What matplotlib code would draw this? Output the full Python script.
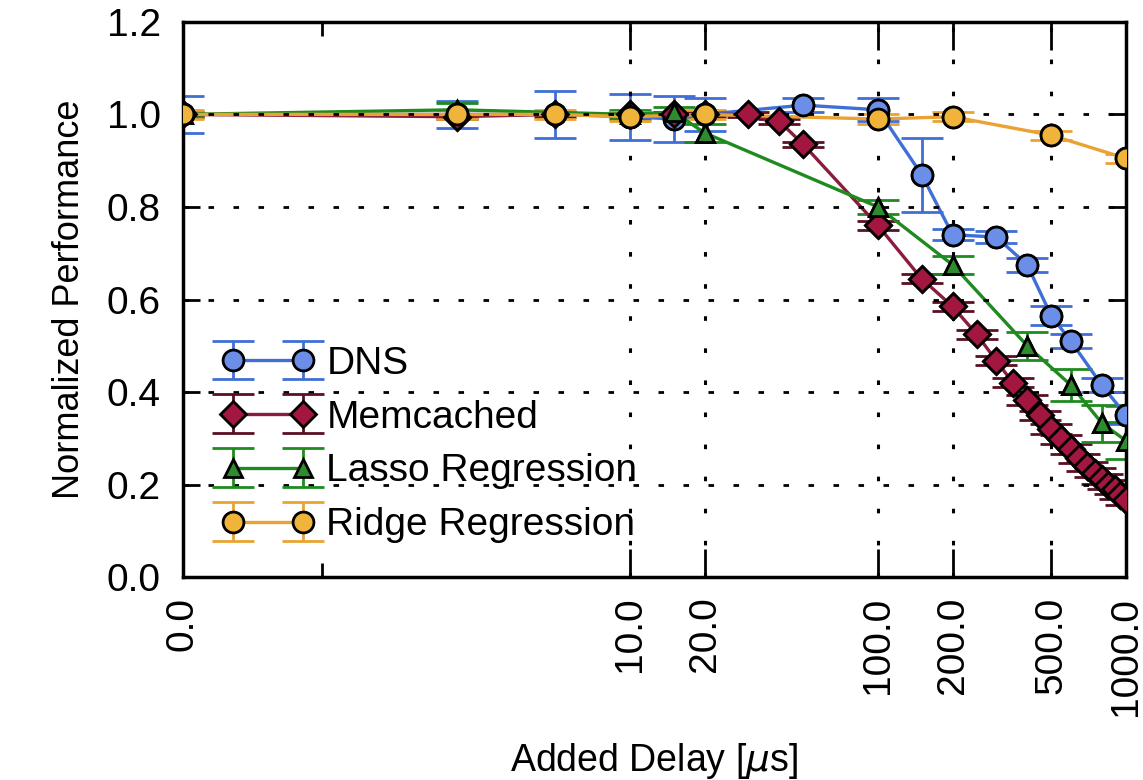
import matplotlib
matplotlib.use('Agg')
import matplotlib.pyplot as plt
from matplotlib.ticker import FixedLocator, NullFormatter

plt.rcParams['font.family'] = ['Liberation Sans', 'DejaVu Sans']
plt.rcParams['mathtext.fontset'] = 'dejavusans'

# delay 0 is drawn at this spot of the log axis (labelled "0.0")
ZERO_POS = 0.157

# --- data ---
dns_x = [0, 2, 5, 10, 15, 20, 50, 100, 150, 200, 300, 400, 500, 600, 800, 1000]
dns_y = [1.0, 1.0, 1.0, 0.995, 0.99, 1.0, 1.02, 1.01, 0.87, 0.74, 0.735, 0.675, 0.565, 0.51, 0.415, 0.35]
dns_e = [0.04, 0.03, 0.05, 0.05, 0.05, 0.035, 0.015, 0.025, 0.08, 0.012, 0.012, 0.015, 0.02, 0.015, 0.015, 0.02]

mem_x = [0, 2, 5, 10, 15, 20, 30, 40, 50, 100, 150, 200, 250, 300, 350, 400, 450, 500,
         550, 600, 650, 700, 750, 800, 850, 900, 950, 1000]
mem_y = [1.0, 0.995, 1.0, 1.0, 1.0, 1.0, 1.0, 0.985, 0.935, 0.76, 0.645, 0.585, 0.525, 0.468,
         0.42, 0.383, 0.35, 0.32, 0.298, 0.277, 0.257, 0.24, 0.226, 0.212, 0.2, 0.19, 0.178, 0.167]
mem_e = [0.005] * 9 + [0.01] * 19

lasso_x = [0, 2, 10, 15, 20, 100, 200, 400, 600, 800, 1000]
lasso_y = [1.0, 1.01, 1.0, 1.005, 0.96, 0.80, 0.675, 0.50, 0.415, 0.333, 0.295]
lasso_e = [0.005, 0.015, 0.01, 0.01, 0.02, 0.015, 0.02, 0.03, 0.035, 0.04, 0.04]

ridge_x = [0, 2, 5, 10, 20, 100, 200, 500, 1000]
ridge_y = [1.0, 1.0, 1.0, 0.995, 1.0, 0.99, 0.995, 0.955, 0.905]
ridge_e = [0.01, 0.01, 0.01, 0.01, 0.01, 0.01, 0.01, 0.01, 0.01]

xtick_vals = [0, 10, 20, 100, 200, 500, 1000]
xtick_labels = ['0.0', '10.0', '20.0', '100.0', '200.0', '500.0', '1000.0']
ytick_vals = [0.0, 0.2, 0.4, 0.6, 0.8, 1.0, 1.2]


def pos(xs):
    return [ZERO_POS if v == 0 else v for v in xs]


fig = plt.figure(figsize=(11.43, 7.8), dpi=100)
ax = fig.add_axes([0.160, 0.260, 0.825, 0.712])

series = [
    ('DNS', dns_x, dns_y, dns_e, 'o', '#3f6fd6', '#6b8fe8', '#3f6fd6'),
    ('Memcached', mem_x, mem_y, mem_e, 'D', '#8c1c3c', '#a3163f', '#5a0f22'),
    ('Lasso Regression', lasso_x, lasso_y, lasso_e, '^', '#1f8a1f', '#2e8b2e', '#1f8a1f'),
    ('Ridge Regression', ridge_x, ridge_y, ridge_e, 'o', '#eaa232', '#f0b43a', '#eaa232'),
]

for i, (name, xs, ys, es, mk, lc, fc, ec) in enumerate(series):
    ms = {'D': 13, '^': 13}.get(mk, 15)
    ax.errorbar(pos(xs), ys, yerr=es, fmt='-', marker=mk, color=lc, lw=2.4,
                ms=ms, mfc=fc, mec='black', mew=2.0, ecolor=ec, elinewidth=2.0,
                capsize=15, capthick=2.0, label=name, zorder=2 + i * 0.01)
    # markers again above the grid
    ax.plot(pos(xs), ys, ls='none', marker=mk, ms=ms, mfc=fc, mec='black',
            mew=2.0, zorder=3 + i * 0.01)

ax.set_xscale('log')
ax.set_xlim(ZERO_POS, 1000)
ax.set_ylim(0, 1.2)

ax.xaxis.set_major_locator(FixedLocator(pos(xtick_vals)))
ax.set_xticklabels(xtick_labels, rotation=90, fontsize=28)
ax.xaxis.set_minor_locator(FixedLocator([0.57]))
ax.xaxis.set_minor_formatter(NullFormatter())
ax.set_yticks(ytick_vals)
ax.set_yticklabels(['%.1f' % v for v in ytick_vals], fontsize=28)

ax.tick_params(axis='x', which='major', direction='in', length=20, width=2,
               top=True, bottom=True, pad=14)
ax.tick_params(axis='y', which='major', direction='in', length=12, width=2,
               left=True, right=True, pad=16)
ax.tick_params(axis='x', which='minor', direction='in', length=10, width=2,
               top=True, bottom=True)

for sp in ax.spines.values():
    sp.set_linewidth(2.5)

# dotted grid at the labelled positions (not at the zero spot)
for v in xtick_vals[1:-1]:
    ax.axvline(v, color='black', lw=2.2, ls=(0, (1.5, 9)), zorder=2.5)
for v in ytick_vals[1:-1]:
    ax.axhline(v, color='black', lw=2.0, ls=(0, (2, 7)), zorder=2.5)

ax.set_xlabel(r'Added Delay [$\mu$s]', fontsize=27, labelpad=18)
ax.set_ylabel('Normalized Performance', fontsize=26, labelpad=14)

ax.legend(loc='lower left', bbox_to_anchor=(0.012, 0.012), frameon=False,
          fontsize=28, numpoints=2, handlelength=2.4, handletextpad=0.3,
          labelspacing=0.46, borderaxespad=0.3)

fig.savefig('out.png', dpi=100)
